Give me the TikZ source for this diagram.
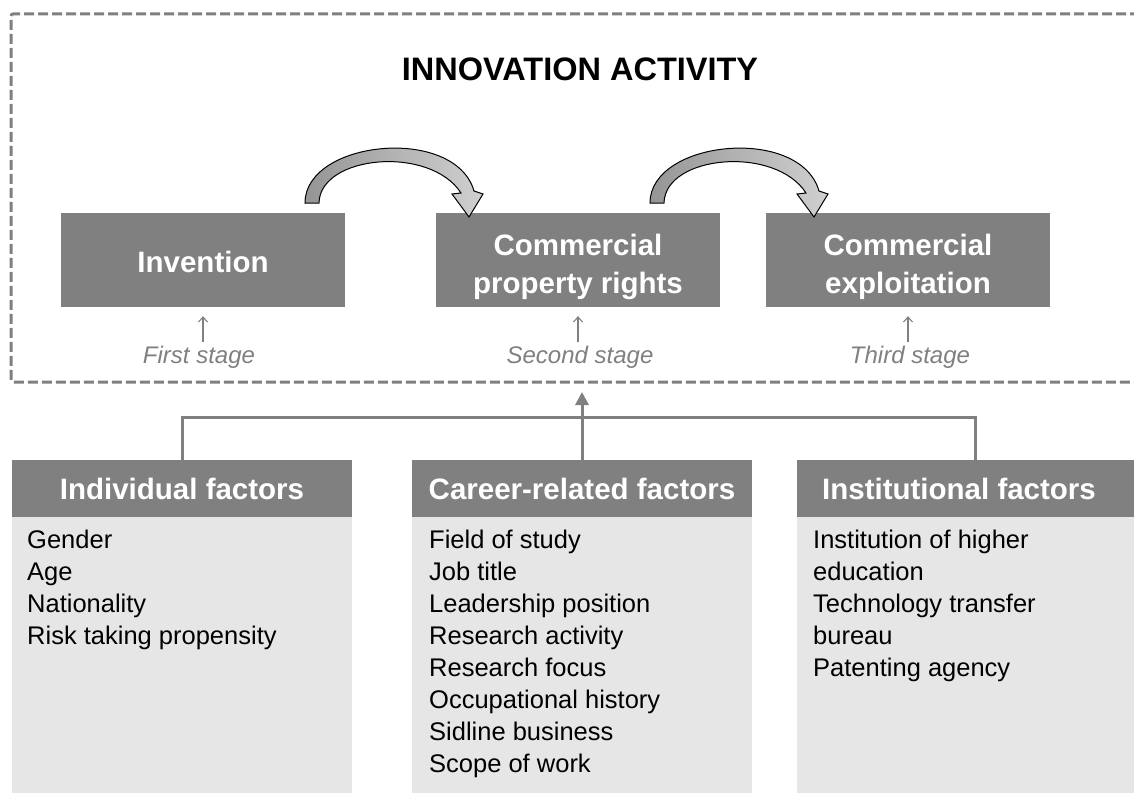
\documentclass[tikz,border=0pt]{standalone}
\usepackage{fontspec}
\setmainfont{Liberation Sans}
\usetikzlibrary{arrows.meta,calc}
\definecolor{boxgray}{HTML}{808080}
\definecolor{bodygray}{HTML}{E6E6E6}
\definecolor{arrdark}{HTML}{959595}
\definecolor{arrlight}{HTML}{D0D0D0}
\begin{document}
\begin{tikzpicture}[x=1pt,y=-1pt,
 stagebox/.style={fill=boxgray,inner sep=0pt,minimum width=284pt,minimum height=94pt},
 stagetext/.style={text=white,inner sep=0pt,align=center,font=\fontsize{29.5}{38}\selectfont\bfseries},
 headbox/.style={fill=boxgray,text=white,inner sep=0pt,minimum width=340pt,minimum height=57pt,anchor=north,font=\fontsize{29.5}{36}\selectfont\bfseries},
 bodybox/.style={fill=bodygray,inner sep=0pt,minimum width=340pt,minimum height=280pt,anchor=north},
 bodytext/.style={inner sep=0pt,align=left,anchor=north west,font=\fontsize{25.5}{32}\selectfont},
 stagelabel/.style={text=boxgray,inner sep=0pt,anchor=base,font=\fontsize{24}{28}\selectfont\itshape},
 sarrow/.style={draw=boxgray,line width=1.1pt,-{Straight Barb[length=5pt,width=9pt]}},
 conn/.style={draw=boxgray,line width=3pt},
 dashframe/.style={draw=boxgray,line width=3pt,dash pattern=on 10pt off 4pt,rounded corners=2pt},
 curvedarrow/.style={draw=black,line width=1pt,left color=arrdark,right color=arrlight},
]
\useasboundingbox (0,0) rectangle (1134,792);

% dashed frame (open to the right)
\draw[dashframe] (1140,14) -- (11,14) -- (11,382) -- (1140,382);

% title
\node[anchor=base,inner sep=0pt,font=\fontsize{32.5}{38}\selectfont\bfseries] (title) at (580,81) {INNOVATION ACTIVITY};

% stage boxes
\node[stagebox] (inv) at (203,260) {};
\node[stagebox] (cpr) at (578,260) {};
\node[stagebox] (cex) at (908,260) {};
\node[stagetext,anchor=base] (invt) at (203,272) {Invention};
\node[stagetext,anchor=north] (cprt) at (578,233.5) {Commercial\\property rights};
\node[stagetext,anchor=north] (cext) at (908,233.5) {Commercial\\exploitation};

% curved arrows
\shadedraw[curvedarrow] (305,203) .. controls (305,140) and (455,125) .. (474,191)
  -- (483,194) -- (469,217) -- (452,194) -- (461,193)
  .. controls (430,145) and (320,155) .. (319,203) -- cycle;
\begin{scope}[xshift=345pt]
\shadedraw[curvedarrow] (305,203) .. controls (305,140) and (455,125) .. (474,191)
  -- (483,194) -- (469,217) -- (452,194) -- (461,193)
  .. controls (430,145) and (320,155) .. (319,203) -- cycle;
\end{scope}

% stage labels
\node[stagelabel] (s1) at (199,363) {First stage};
\node[stagelabel] (s2) at (580,363) {Second stage};
\node[stagelabel] (s3) at (910,363) {Third stage};
\draw[sarrow] ($(inv.south)+(0,35)$) -- ($(inv.south)+(0,9)$);
\draw[sarrow] ($(cpr.south)+(0,35)$) -- ($(cpr.south)+(0,9)$);
\draw[sarrow] ($(cex.south)+(0,35)$) -- ($(cex.south)+(0,9)$);

% factor boxes
\node[bodybox] (b1) at (182,517) {};
\node[bodybox] (b2) at (582,517) {};
\node[bodybox] (b3) at (967,517) {};
\node[headbox] (h1) at (182,460) {Individual factors};
\node[headbox] (h2) at (582,460) {Career-related factors};
\node[headbox] (h3) at (967,460) {\hspace*{-16pt}Institutional factors};

\node[bodytext] (t1) at (27,529.5) {Gender\\Age\\Nationality\\Risk taking propensity};
\node[bodytext] (t2) at (429,529.5) {Field of study\\Job title\\Leadership position\\Research activity\\Research focus\\Occupational history\\Sidline business\\Scope of work};
\node[bodytext] (t3) at (813,529.5) {Institution of higher\\education\\Technology transfer\\bureau\\Patenting agency};

% connectors
\coordinate (c3) at ($(h3.north)+(8,0)$);
\draw[conn] (h1.north) |- ($(c3)+(0,-43)$) -- (c3);
\draw[conn,-{Triangle[length=13pt,width=13pt]}] (h2.north) -- ($(h2.north)+(0,-68)$);
\end{tikzpicture}
\end{document}
